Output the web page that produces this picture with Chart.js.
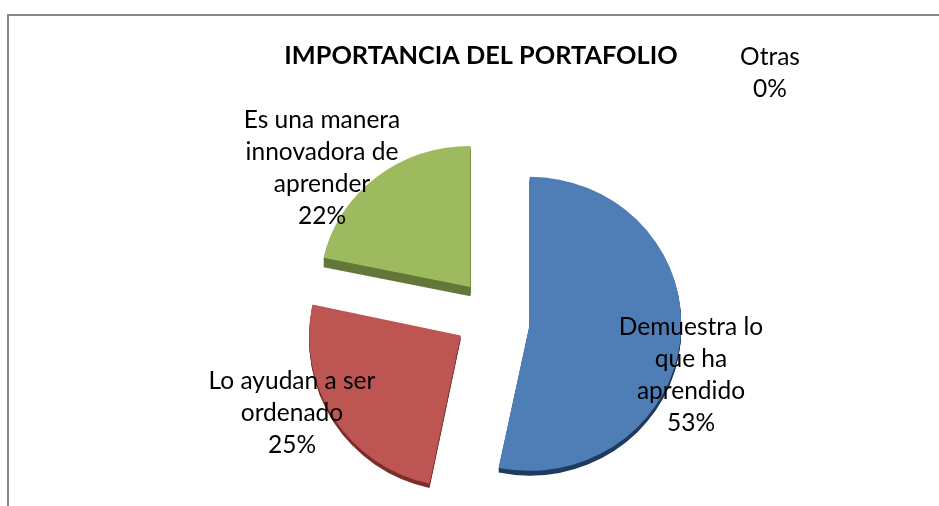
<!DOCTYPE html>
<html>
<head>
<meta charset="utf-8">
<script src="https://cdn.jsdelivr.net/npm/chart.js@4"></script>
<style>
html,body{margin:0;padding:0;background:#fff;overflow:hidden}
#frame{position:absolute;left:7px;top:14px;right:-10px;bottom:-10px;border-top:2px solid #868686;border-left:2px solid #868686}
canvas{position:absolute;left:0;top:0}
</style>
</head>
<body>
<div id="frame"></div>
<canvas id="c" width="939" height="506"></canvas>
<script>
const titleText = 'IMPORTANCIA DEL PORTAFOLIO';
const categories = ['Demuestra lo que ha aprendido','Lo ayudan a ser ordenado','Es una manera innovadora de aprender','Otras'];
const values = [53.3,25,21.7,0];
const percentLabels = ['53%','25%','22%','0%'];
const labelLines = [['Demuestra lo','que ha','aprendido'],['Lo ayudan a ser','ordenado'],['Es una manera','innovadora de','aprender'],['Otras']];
const labelAnchors = [[691,327],[292,381],[322,120],[770,57]];
const sliceColors = ['#4F7EB7','#BD5652','#9DBB5E','#8064A2'];
const sideColors = ['#1F3A5F','#7A2E2B','#63773A','#4A3A60'];
const sideDepths = [5,4,10,0];
const sliceOffsets = [140,164,156,0];
const sliceScaleX = [1.01,1.01,1,1];
const sliceScaleY = [0.98,1.01,0.94,1];
const sliceNudgeY = [3,-4,0,0];
const pieRadius = 150;
const labelFont = '24.5px Lato';
const labelLine = 32;

// The perspective of the original: each exploded slice is slightly stretched about its own apex.
function applyView(ctx,arc,i,ax,ay){
  ctx.translate(ax,ay+sliceNudgeY[i]);
  ctx.scale(sliceScaleX[i],sliceScaleY[i]);
  ctx.translate(-ax,-ay);
}
const piePlugin = {
  id:'pieExtras',
  afterLayout(chart){
    if(chart.titleBlock){ chart.titleBlock.right -= 28; }
  },
  afterDatasetsUpdate(chart){
    chart.getDatasetMeta(0).data.forEach((arc,i)=>{
      const c=arc.endAngle-arc.startAngle;
      const grow=sliceOffsets[i]/4*(1-Math.sin(Math.min(Math.PI,c)));
      // Chart.js grows and narrows an offset arc; undo that so the slice keeps its true radius and angle
      arc.outerRadius=pieRadius-grow;
      const delta=grow/(2*Math.PI*pieRadius);
      const a0=arc.startAngle,a1=arc.endAngle;
      const mid=(a0+a1)/2;
      const ax=arc.x+Math.cos(mid)*sliceOffsets[i]/4, ay=arc.y+Math.sin(mid)*sliceOffsets[i]/4;
      arc.$view={a0,a1,ax,ay};
      if(c>0){arc.startAngle=a0-delta;arc.endAngle=a1+delta;}
      const draw=arc.draw;
      arc.draw=function(ctx){
        ctx.save();
        applyView(ctx,arc,i,ax,ay);
        draw.call(arc,ctx);
        ctx.restore();
      };
    });
  },
  beforeDatasetsDraw(chart){
    const ctx=chart.ctx;
    chart.getDatasetMeta(0).data.forEach((arc,i)=>{
      const v=arc.$view;
      if(!v||v.a1<=v.a0) return;
      ctx.save();
      applyView(ctx,arc,i,v.ax,v.ay);
      ctx.fillStyle=sideColors[i];
      for(let d=1;d<=sideDepths[i];d++){
        ctx.beginPath();
        ctx.moveTo(v.ax,v.ay+d);
        ctx.arc(v.ax,v.ay+d,pieRadius,v.a0,v.a1);
        ctx.closePath();
        ctx.fill();
      }
      ctx.restore();
    });
  },
  afterDatasetsDraw(chart){
    const ctx=chart.ctx;
    ctx.save();
    ctx.font=labelFont;
    ctx.fillStyle='#000';
    ctx.textAlign='center';
    ctx.textBaseline='middle';
    labelLines.forEach((lines,i)=>{
      const [x,y]=labelAnchors[i];
      lines.concat(percentLabels[i]).forEach((t,k)=>ctx.fillText(t,x,y+k*labelLine));
    });
    ctx.restore();
  }
};
new Chart(document.getElementById('c'),{
  type:'pie',
  data:{labels:categories,datasets:[{
    data:values,
    backgroundColor:sliceColors,
    borderWidth:0,
    offset:sliceOffsets,
    radius:pieRadius,
    clip:false
  }]},
  options:{
    responsive:false,
    animation:false,
    events:[],
    layout:{padding:{left:51,right:0,top:0,bottom:0}},
    plugins:{
      legend:{display:false},
      tooltip:{enabled:false},
      title:{display:true,text:titleText,color:'#000',
        font:{family:'Lato',size:25.3,weight:'bold',lineHeight:1.2},
        padding:{top:41,bottom:57}}
    }
  },
  plugins:[piePlugin]
});
</script>
</body>
</html>
